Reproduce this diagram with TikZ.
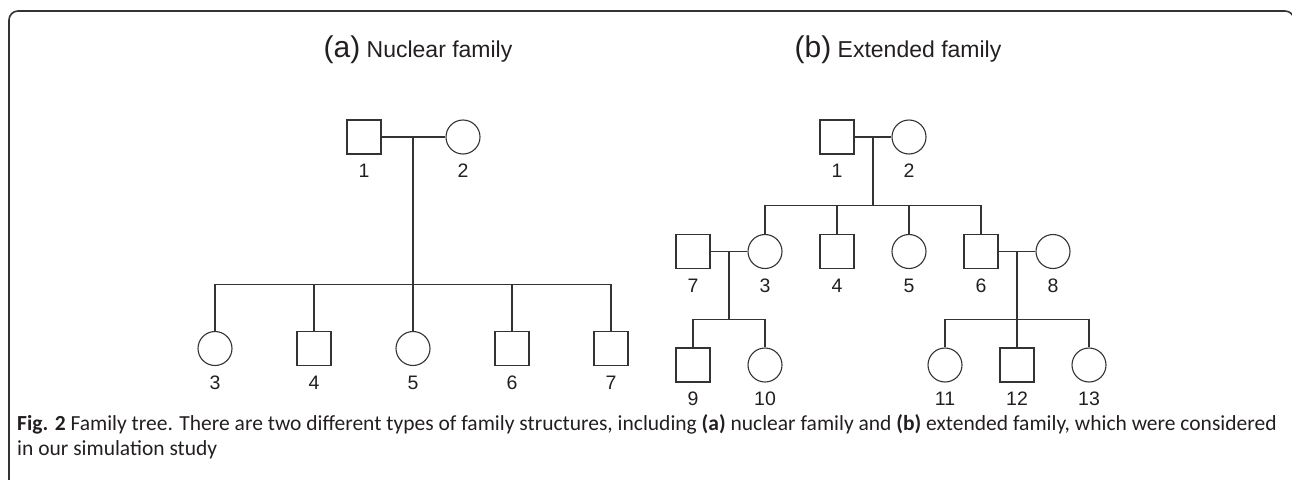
\documentclass[tikz,border=0pt]{standalone}
\usepackage{fontspec}
\setmainfont{Liberation Sans}
\newfontfamily\capfont{Carlito}
\usetikzlibrary{calc}
\definecolor{ink}{HTML}{333333}
\definecolor{txt}{HTML}{231F20}
\tikzset{
  male/.style={draw=ink,line width=1.1pt,rectangle,minimum size=34pt,inner sep=0pt},
  female/.style={draw=ink,line width=1.1pt,circle,minimum size=34pt,inner sep=0pt},
  link/.style={draw=ink,line width=1.1pt},
  num/.style={text=txt,font=\fontsize{19.5}{20}\selectfont,inner sep=0pt},
  ttl/.style={text=txt,font=\fontsize{23}{24}\selectfont,inner sep=0pt,anchor=base},
  capline/.style={anchor=base west,inner sep=0pt,text=txt,font=\capfont\fontsize{21.5}{25}\selectfont},
}
\newcommand{\pers}[5]{% style, name, x, y, label
  \node[#1] (#2) at (#3,#4) {};
  \node[num] (#2l) at ($(#2.center)+(0,34)$) {#5};
}
\begin{document}
\begin{tikzpicture}[x=1pt,y=-1pt]
\useasboundingbox (0,0) rectangle (1292,479);
\begin{scope}
\clip (0,0) rectangle (1292,479);
\draw[line width=1.6pt,color=ink,rounded corners=9pt] (9,520) -- (9,11) -- (1294,11) -- (1294,520);
\end{scope}
% titles
\node[ttl] (ta) at (418,57) {{\fontsize{30}{30}\selectfont(a)} Nuclear family};
\node[ttl] (tb) at (898,57) {{\fontsize{30}{30}\selectfont(b)} Extended family};
% ---- nuclear family ----
\pers{male}{a1}{364}{137}{1}
\pers{female}{a2}{463}{137}{2}
\draw[link] (a1) -- (a2);
\coordinate (am) at (413,137);
\coordinate (aj) at (413,284.5);
\draw[link] (am) -- (aj);
\pers{female}{a3}{215}{348.5}{3}
\pers{male}{a4}{314}{348.5}{4}
\pers{female}{a5}{413}{348.5}{5}
\pers{male}{a6}{512}{348.5}{6}
\pers{male}{a7}{611}{348.5}{7}
\draw[link] (a3.north) |- (aj) -| (a7.north);
\draw[link] (a4.north) -- (a4.north |- aj);
\draw[link] (a5.north) -- (aj);
\draw[link] (a6.north) -- (a6.north |- aj);
% ---- extended family ----
\pers{male}{b1}{837}{137}{1}
\pers{female}{b2}{909}{137}{2}
\draw[link] (b1) -- (b2);
\coordinate (bm) at (873,137);
\coordinate (bj) at (873,205.7);
\draw[link] (bm) -- (bj);
\pers{male}{b7}{693}{251.5}{7}
\pers{female}{b3}{765}{251.5}{3}
\pers{male}{b4}{837}{251.5}{4}
\pers{female}{b5}{909}{251.5}{5}
\pers{male}{b6}{981}{251.5}{6}
\pers{female}{b8}{1053}{251.5}{8}
\draw[link] (b3.north) |- (bj) -| (b6.north);
\draw[link] (b4.north) -- (b4.north |- bj);
\draw[link] (b5.north) -- (b5.north |- bj);
\draw[link] (b7) -- (b3);
\draw[link] (b6) -- (b8);
\coordinate (cm) at (729,251.5);
\coordinate (cj) at (729,319.3);
\coordinate (dm) at (1017,251.5);
\coordinate (dj) at (1017,319.3);
\draw[link] (cm) -- (cj);
\draw[link] (dm) -- (dj);
\pers{male}{b9}{693}{365}{9}
\pers{female}{b10}{765}{365}{10}
\pers{female}{b11}{945}{365}{11}
\pers{male}{b12}{1017}{365}{12}
\pers{female}{b13}{1089}{365}{13}
\draw[link] (b9.north) |- (cj) -| (b10.north);
\draw[link] (b11.north) |- (dj) -| (b13.north);
\draw[link] (b12.north) -- (dj);
% caption
\node[capline] (cap1) at (17,430)
 {\textbf{Fig. 2} Family tree. There are two different types of family structures, including \textbf{(a)} nuclear family and \textbf{(b)} extended family, which were considered};
\node[capline] (cap2) at (17,455) {in our simulation study};
\end{tikzpicture}
\end{document}
